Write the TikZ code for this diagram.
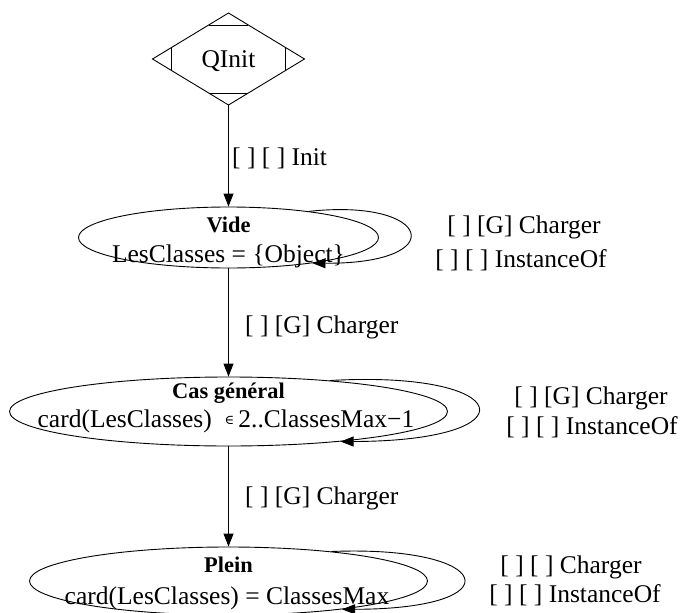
\documentclass[tikz,border=0pt]{standalone}
\usepackage{fontspec}
\setmainfont{Liberation Serif}
\newfontfamily\symf{DejaVu Serif}
\usetikzlibrary{arrows.meta,shapes.geometric}
\tikzset{
  stateell/.style={draw, ellipse, inner sep=0pt, line width=0.9pt},
  tx/.style={font=\fontsize{25.5}{28}\selectfont, inner sep=0pt},
  btx/.style={font=\fontsize{22.4}{26}\selectfont\bfseries, inner sep=0pt},
  edge/.style={line width=0.9pt, -{Triangle[length=13pt,width=10pt]}},
  thin line/.style={line width=0.9pt},
}
\begin{document}
\begin{tikzpicture}[x=1pt,y=-1pt]
\useasboundingbox (0,0) rectangle (680,613);
% QInit (Mdiamond)
\coordinate (qt) at (228.5,13);
\coordinate (qr) at (304.5,59);
\coordinate (qb) at (228.5,105);
\coordinate (ql) at (152.5,59);
\draw[thin line] (qt) -- (qr) -- (qb) -- (ql) -- cycle;
\draw[thin line] (208.7,25) -- (248.3,25);
\draw[thin line] (208.7,93) -- (248.3,93);
\draw[thin line] (171.5,47.5) -- (171.5,70.5);
\draw[thin line] (285.5,47.5) -- (285.5,70.5);
\node[tx] (qinit) at (228.5,61) {QInit};
% states
\node[stateell, minimum width=300pt, minimum height=61pt] (vide) at (228.5,237.5) {};
\node[btx] (videa) at (228.5,225) {Vide};
\node[tx] (videb) at (228.5,256) {LesClasses = \{Object\}};
\node[stateell, minimum width=438pt, minimum height=69pt] (cas) at (228.5,411.5) {};
\node[btx] (casa) at (228.5,393) {Cas général};
\node[tx] (casb) at (226,421) {card(LesClasses) \ \raisebox{3pt}{\symf\fontsize{13}{13}\selectfont ∈}\,2..ClassesMax−1};
\node[stateell, minimum width=398pt, minimum height=68pt] (plein) at (228.5,581) {};
\node[btx] (pleina) at (228.5,565) {Plein};
\node[tx] (pleinb) at (227,598) {card(LesClasses) = ClassesMax};
% edges
\draw[edge] (qb) -- (vide.north);
\node[tx, anchor=west] (linit) at (232,158) {[ ] [ ] Init};
\draw[edge] (vide.south) -- (cas.north);
\node[tx, anchor=west] (lvc) at (245,327) {[ ] [G] Charger};
\draw[edge] (cas.south) -- (plein.north);
\node[tx, anchor=west] (lcp) at (245,498) {[ ] [G] Charger};
% self loops
\draw[edge] (vide.18) .. controls (432,198) and (452,264) .. (vide.-17);
\node[tx] (lv1) at (524,227) {[ ] [G] Charger};
\node[tx] (lv2) at (521,260) {[ ] [ ] InstanceOf};
\draw[edge] (cas.17) .. controls (515,370) and (535,441) .. (cas.-15);
\node[tx] (lc1) at (591,398) {[ ] [G] Charger};
\node[tx] (lc2) at (592,427) {[ ] [ ] InstanceOf};
\draw[edge] (plein.16) .. controls (495,545) and (515,609) .. (plein.-14);
\node[tx] (lp1) at (571,567) {[ ] [ ] Charger};
\node[tx] (lp2) at (575,595) {[ ] [ ] InstanceOf};
\end{tikzpicture}
\end{document}
